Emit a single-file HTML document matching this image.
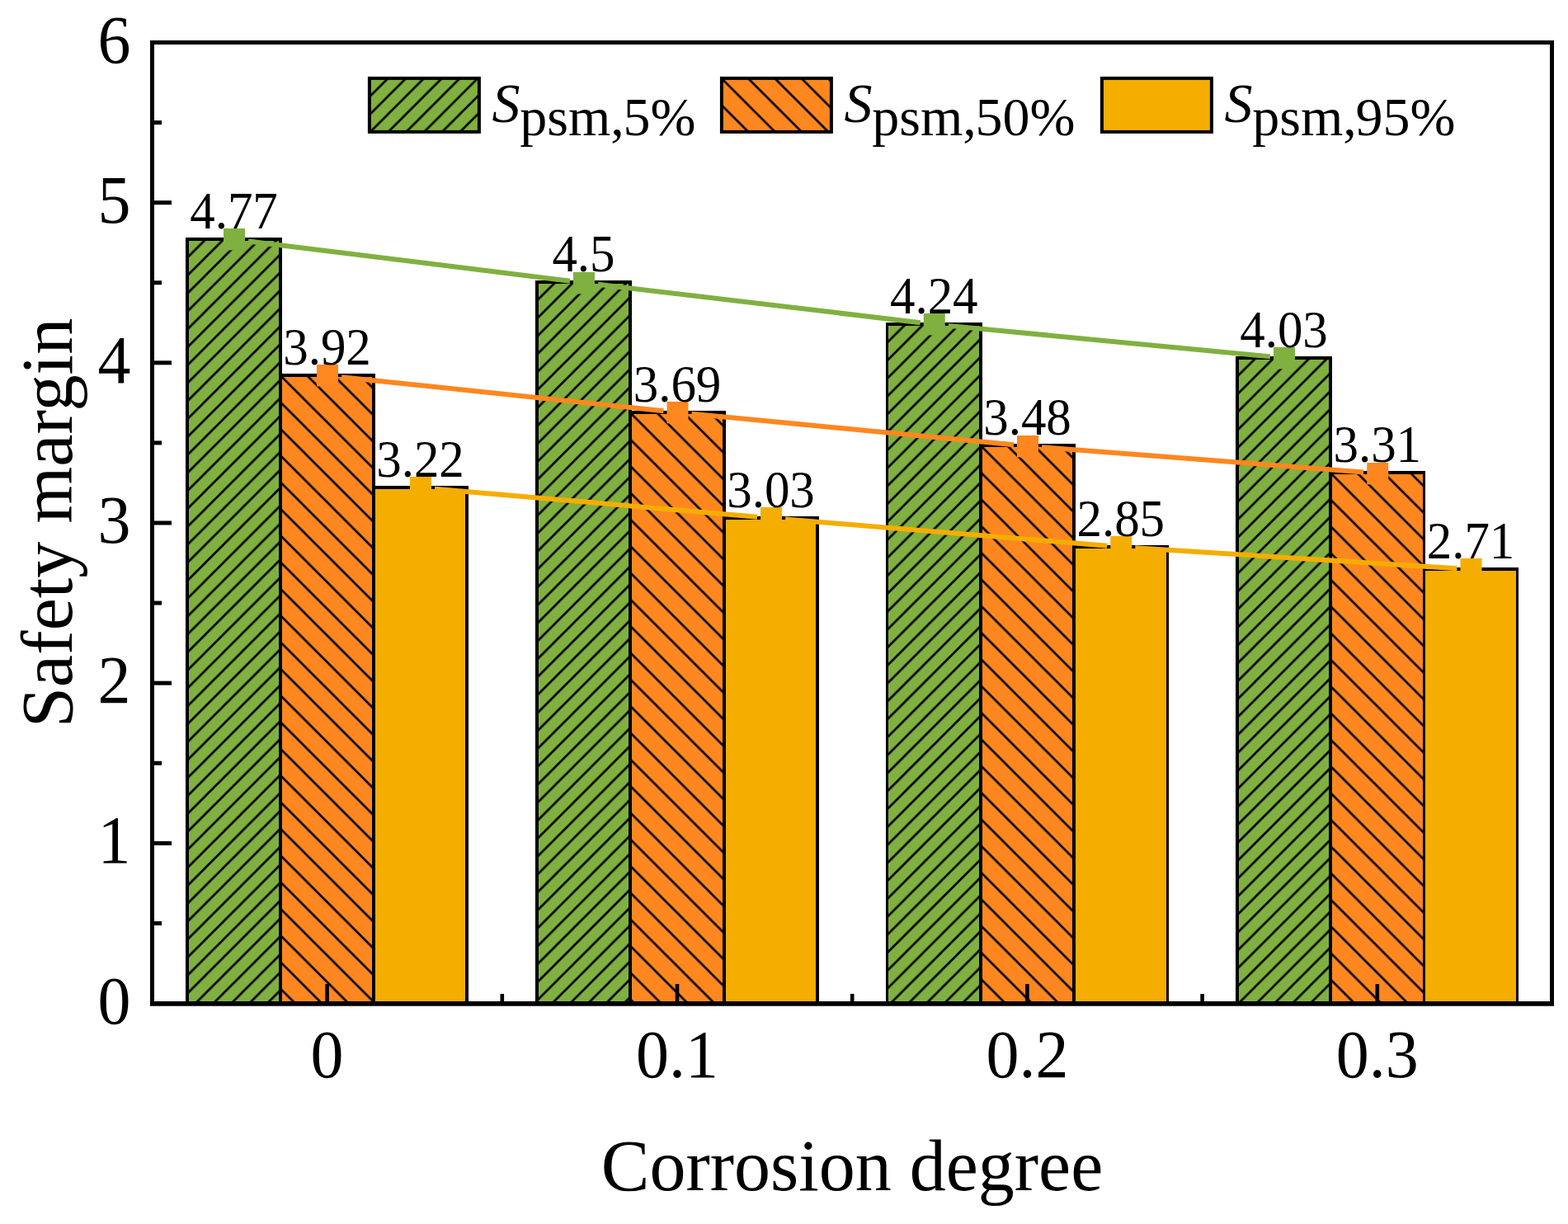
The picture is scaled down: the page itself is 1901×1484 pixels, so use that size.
<!DOCTYPE html>
<html lang="en"><head><meta charset="utf-8"><title>Safety margin vs corrosion degree</title>
<style>
html,body{margin:0;padding:0;background:#fff;}
body{width:1901px;height:1484px;overflow:hidden;}
svg{display:block;}
text{font-family:"Liberation Serif", "DejaVu Serif", serif;fill:#000;}
</style></head><body>
<svg width="1901" height="1484" viewBox="0 0 1901 1484" role="img" aria-label="Safety margin versus corrosion degree">
<defs>
<pattern id="hg" patternUnits="userSpaceOnUse" width="21.76" height="21.76" x="0.4" y="0.4"><rect x="-1" y="-1" width="23.76" height="23.76" fill="#80b040"/><path d="M-21.76,21.76 L21.76,-21.76 M-21.76,43.52 L43.52,-21.76 M0,43.52 L43.52,0" stroke="#000" stroke-width="2.7" fill="none"/></pattern>
<pattern id="ho" patternUnits="userSpaceOnUse" width="32.32" height="32.32" x="0" y="0.3"><rect x="-1" y="-1" width="34.32" height="34.32" fill="#ff871f"/><path d="M-32.32,-32.32 L64.64,64.64 M-32.32,0 L32.32,64.64 M0,-32.32 L64.64,32.32" stroke="#000" stroke-width="2.7" fill="none"/></pattern>
</defs>
<rect x="0" y="0" width="1901" height="1484" fill="#fff"/>
<g transform="translate(227.00,290.00)"><rect x="0" y="0" width="113.00" height="926.50" fill="url(#hg)"/></g>
<g transform="translate(340.00,455.00)"><rect x="0" y="0" width="113.00" height="761.50" fill="url(#ho)"/></g>
<g transform="translate(453.00,591.00)"><rect x="0" y="0" width="113.00" height="625.50" fill="#f5ad00"/></g>
<g transform="translate(651.00,342.00)"><rect x="0" y="0" width="113.00" height="874.50" fill="url(#hg)"/></g>
<g transform="translate(764.00,500.00)"><rect x="0" y="0" width="114.00" height="716.50" fill="url(#ho)"/></g>
<g transform="translate(878.00,628.00)"><rect x="0" y="0" width="113.00" height="588.50" fill="#f5ad00"/></g>
<g transform="translate(1075.50,393.00)"><rect x="0" y="0" width="113.50" height="823.50" fill="url(#hg)"/></g>
<g transform="translate(1189.00,540.00)"><rect x="0" y="0" width="113.00" height="676.50" fill="url(#ho)"/></g>
<g transform="translate(1302.00,663.00)"><rect x="0" y="0" width="113.50" height="553.50" fill="#f5ad00"/></g>
<g transform="translate(1500.00,434.00)"><rect x="0" y="0" width="113.00" height="782.50" fill="url(#hg)"/></g>
<g transform="translate(1613.00,573.00)"><rect x="0" y="0" width="113.50" height="643.50" fill="url(#ho)"/></g>
<g transform="translate(1726.50,690.00)"><rect x="0" y="0" width="113.00" height="526.50" fill="#f5ad00"/></g>
<g fill="#000">
<rect x="225" y="288.0" width="4" height="928.5"/>
<rect x="338" y="288.0" width="4" height="928.5"/>
<rect x="451" y="453.0" width="4" height="763.5"/>
<rect x="564" y="589.0" width="4" height="627.5"/>
<rect x="225" y="288.0" width="117" height="4" rx="1"/>
<rect x="338" y="453.0" width="117" height="4" rx="1"/>
<rect x="451" y="589.0" width="117" height="4" rx="1"/>
<rect x="649" y="340.0" width="4" height="876.5"/>
<rect x="762" y="340.0" width="4" height="876.5"/>
<rect x="876" y="498.0" width="4" height="718.5"/>
<rect x="989" y="626.0" width="4" height="590.5"/>
<rect x="649" y="340.0" width="117" height="4" rx="1"/>
<rect x="762" y="498.0" width="118" height="4" rx="1"/>
<rect x="876" y="626.0" width="117" height="4" rx="1"/>
<rect x="1074" y="391.0" width="3" height="825.5"/>
<rect x="1187" y="391.0" width="4" height="825.5"/>
<rect x="1300" y="538.0" width="4" height="678.5"/>
<rect x="1414" y="661.0" width="3" height="555.5"/>
<rect x="1074" y="391.0" width="117" height="4" rx="1"/>
<rect x="1187" y="538.0" width="117" height="4" rx="1"/>
<rect x="1300" y="661.0" width="117" height="4" rx="1"/>
<rect x="1498" y="432.0" width="4" height="784.5"/>
<rect x="1611" y="432.0" width="4" height="784.5"/>
<rect x="1725" y="571.0" width="3" height="645.5"/>
<rect x="1838" y="688.0" width="3" height="528.5"/>
<rect x="1498" y="432.0" width="117" height="4" rx="1"/>
<rect x="1611" y="571.0" width="117" height="4" rx="1"/>
<rect x="1725" y="688.0" width="116" height="4" rx="1"/>
</g>
<g stroke="#000" fill="none">
<rect x="184.50" y="51.50" width="1697.00" height="1165.00" stroke-width="5"/>
<line x1="182.00" y1="1216.90" x2="1884.00" y2="1216.90" stroke-width="5.8"/>
<line x1="184.50" y1="1216.50" x2="208.00" y2="1216.50" stroke-width="5"/>
<line x1="184.50" y1="1119.42" x2="196.00" y2="1119.42" stroke-width="5"/>
<line x1="184.50" y1="1022.33" x2="208.00" y2="1022.33" stroke-width="5"/>
<line x1="184.50" y1="925.25" x2="196.00" y2="925.25" stroke-width="5"/>
<line x1="184.50" y1="828.17" x2="208.00" y2="828.17" stroke-width="5"/>
<line x1="184.50" y1="731.08" x2="196.00" y2="731.08" stroke-width="5"/>
<line x1="184.50" y1="634.00" x2="208.00" y2="634.00" stroke-width="5"/>
<line x1="184.50" y1="536.92" x2="196.00" y2="536.92" stroke-width="5"/>
<line x1="184.50" y1="439.83" x2="208.00" y2="439.83" stroke-width="5"/>
<line x1="184.50" y1="342.75" x2="196.00" y2="342.75" stroke-width="5"/>
<line x1="184.50" y1="245.67" x2="208.00" y2="245.67" stroke-width="5"/>
<line x1="184.50" y1="148.58" x2="196.00" y2="148.58" stroke-width="5"/>
<line x1="184.50" y1="51.50" x2="208.00" y2="51.50" stroke-width="5"/>
<line x1="396.60" y1="1216.50" x2="396.60" y2="1193.00" stroke-width="4.6"/>
<line x1="608.80" y1="1216.50" x2="608.80" y2="1205.00" stroke-width="4.6"/>
<line x1="821.00" y1="1216.50" x2="821.00" y2="1193.00" stroke-width="4.6"/>
<line x1="1033.20" y1="1216.50" x2="1033.20" y2="1205.00" stroke-width="4.6"/>
<line x1="1245.40" y1="1216.50" x2="1245.40" y2="1193.00" stroke-width="4.6"/>
<line x1="1457.60" y1="1216.50" x2="1457.60" y2="1205.00" stroke-width="4.6"/>
<line x1="1669.80" y1="1216.50" x2="1669.80" y2="1193.00" stroke-width="4.6"/>
</g>
<line x1="301.00" y1="292.43" x2="691.00" y2="340.65" stroke="#80b040" stroke-width="6.0"/>
<line x1="725.00" y1="344.77" x2="1115.75" y2="391.21" stroke="#80b040" stroke-width="6.0"/>
<line x1="1149.75" y1="394.87" x2="1540.00" y2="432.37" stroke="#80b040" stroke-width="6.0"/>
<rect x="271.00" y="277.00" width="26" height="26.4" fill="#80b040"/>
<rect x="695.00" y="330.00" width="26" height="26.4" fill="#80b040"/>
<rect x="1119.75" y="380.00" width="26" height="26.4" fill="#80b040"/>
<rect x="1544.00" y="421.00" width="26" height="26.4" fill="#80b040"/>
<line x1="414.00" y1="457.16" x2="804.50" y2="498.24" stroke="#ff871f" stroke-width="6.0"/>
<line x1="838.50" y1="501.66" x2="1229.00" y2="539.17" stroke="#ff871f" stroke-width="6.0"/>
<line x1="1263.00" y1="542.12" x2="1653.25" y2="572.49" stroke="#ff871f" stroke-width="6.0"/>
<rect x="384.00" y="442.00" width="26" height="26.4" fill="#ff871f"/>
<rect x="808.50" y="487.00" width="26" height="26.4" fill="#ff871f"/>
<rect x="1233.00" y="528.00" width="26" height="26.4" fill="#ff871f"/>
<rect x="1657.25" y="561.00" width="26" height="26.4" fill="#ff871f"/>
<line x1="527.00" y1="592.76" x2="918.00" y2="626.70" stroke="#f5ad00" stroke-width="6.0"/>
<line x1="952.00" y1="629.58" x2="1342.25" y2="661.72" stroke="#f5ad00" stroke-width="6.0"/>
<line x1="1376.25" y1="664.21" x2="1766.50" y2="689.22" stroke="#f5ad00" stroke-width="6.0"/>
<rect x="497.00" y="578.00" width="26" height="26.4" fill="#f5ad00"/>
<rect x="922.00" y="615.00" width="26" height="26.4" fill="#f5ad00"/>
<rect x="1346.25" y="650.00" width="26" height="26.4" fill="#f5ad00"/>
<rect x="1770.50" y="677.00" width="26" height="26.4" fill="#f5ad00"/>
<g font-size="61" text-anchor="middle">
<text transform="translate(283.50,277.20) scale(1,1.04)">4.77</text>
<text transform="translate(707.50,329.20) scale(1,1.04)">4.5</text>
<text transform="translate(1132.25,380.20) scale(1,1.04)">4.24</text>
<text transform="translate(1556.50,421.20) scale(1,1.04)">4.03</text>
<text transform="translate(396.50,442.20) scale(1,1.04)">3.92</text>
<text transform="translate(821.00,487.20) scale(1,1.04)">3.69</text>
<text transform="translate(1245.50,527.20) scale(1,1.04)">3.48</text>
<text transform="translate(1669.75,560.20) scale(1,1.04)">3.31</text>
<text transform="translate(509.50,578.20) scale(1,1.04)">3.22</text>
<text transform="translate(934.50,615.20) scale(1,1.04)">3.03</text>
<text transform="translate(1358.75,650.20) scale(1,1.04)">2.85</text>
<text transform="translate(1783.00,677.20) scale(1,1.04)">2.71</text>
</g>
<g font-size="80" text-anchor="end">
<text transform="translate(158.50,1240.50) scale(1,1.035)">0</text>
<text transform="translate(158.50,1046.33) scale(1,1.035)">1</text>
<text transform="translate(158.50,852.17) scale(1,1.035)">2</text>
<text transform="translate(158.50,658.00) scale(1,1.035)">3</text>
<text transform="translate(158.50,463.83) scale(1,1.035)">4</text>
<text transform="translate(158.50,269.67) scale(1,1.035)">5</text>
<text transform="translate(158.50,75.50) scale(1,1.035)">6</text>
</g>
<g font-size="80" text-anchor="middle">
<text transform="translate(396.60,1306.30) scale(1,1.035)">0</text>
<text transform="translate(821.00,1306.30) scale(1,1.035)">0.1</text>
<text transform="translate(1245.40,1306.30) scale(1,1.035)">0.2</text>
<text transform="translate(1669.80,1306.30) scale(1,1.035)">0.3</text>
</g>
<text x="1033.00" y="1443.00" font-size="88" text-anchor="middle">Corrosion degree</text>
<text transform="translate(87.00,634.00) rotate(-90)" font-size="88.4" text-anchor="middle">Safety margin</text>
<g transform="translate(447.90,94.90)"><rect x="0" y="0" width="133.00" height="65.00" fill="url(#hg)" stroke="#000" stroke-width="4"/></g>
<text x="596.50" y="148.00" font-size="68" font-style="italic">S</text>
<text x="630.30" y="164.30" font-size="66">psm,<tspan dx="-1.3">5%</tspan></text>
<g transform="translate(874.90,94.90)"><rect x="0" y="0" width="133.00" height="65.00" fill="url(#ho)" stroke="#000" stroke-width="4"/></g>
<text x="1023.50" y="148.00" font-size="68" font-style="italic">S</text>
<text x="1057.30" y="164.30" font-size="66">psm,<tspan dx="-1.3">50%</tspan></text>
<g transform="translate(1335.90,94.90)"><rect x="0" y="0" width="133.00" height="65.00" fill="#f5ad00" stroke="#000" stroke-width="4"/></g>
<text x="1484.50" y="148.00" font-size="68" font-style="italic">S</text>
<text x="1518.30" y="164.30" font-size="66">psm,<tspan dx="-1.3">95%</tspan></text>
</svg>
</body></html>
